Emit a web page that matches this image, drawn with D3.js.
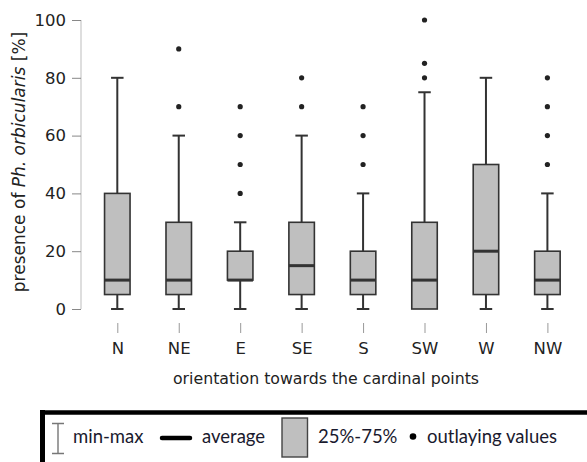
<!DOCTYPE html>
<html><head><meta charset="utf-8">
<script src="https://cdn.jsdelivr.net/npm/d3@7/dist/d3.min.js"></script>
<style>body{margin:0;background:#fff}svg{display:block}</style>
</head><body>
<script>
const categories = ["N","NE","E","SE","S","SW","W","NW"];
const mins    = [0,0,0,0,0,0,0,0];
const q1s     = [5,5,10,5,5,0,5,5];
const medians = [10,10,10,15,10,10,20,10];
const q3s     = [40,30,20,30,20,30,50,20];
const maxs    = [80,60,30,60,40,75,80,40];
const outliers = [[],[70,90],[40,50,60,70],[70,80],[50,60,70],[80,85,100],[],[50,60,70,80]];
const yTicks = [0,20,40,60,80,100];
const legendLabels = ["min-max","average","25%-75%","outlaying values"];

const W = 587, H = 462;
const svg = d3.select("body").append("svg").attr("width",W).attr("height",H);

const x = d3.scalePoint().domain(categories).range([117.3, 547.4]);
const y = d3.scaleLinear().domain([0,100]).range([309,20]);
const dark = "#333";
const font = "DejaVu Sans";

// y axis
const yAxis = svg.append("g").attr("transform","translate(81,0)")
  .call(d3.axisLeft(y).tickValues(yTicks).tickSize(9).tickPadding(6));
yAxis.select(".domain").attr("stroke","#c8c8c8").attr("stroke-width",1.2).attr("d","M0,20V309");
yAxis.selectAll(".tick line").attr("stroke","#888").attr("stroke-width",1);
yAxis.selectAll(".tick text").attr("font-family",font).attr("font-size",16.5).attr("fill","#222");

// x axis (ticks only)
const xAxis = svg.append("g").attr("transform","translate(0,323)")
  .call(d3.axisBottom(x).tickSize(10).tickPadding(9).tickSizeOuter(0));
xAxis.select(".domain").remove();
xAxis.selectAll(".tick line").attr("stroke","#999").attr("stroke-width",1);
xAxis.selectAll(".tick text").attr("font-family",font).attr("font-size",16.5).attr("fill","#222");

// boxes
const bw = 25.5, cw = 12.5;
const data = categories.map((c,i)=>({c,min:mins[i],q1:q1s[i],med:medians[i],q3:q3s[i],max:maxs[i],out:outliers[i]}));
const g = svg.append("g").selectAll("g").data(data).join("g");
g.append("line").attr("x1",d=>x(d.c)).attr("x2",d=>x(d.c)).attr("y1",d=>y(d.max)).attr("y2",d=>y(d.q3))
  .attr("stroke",dark).attr("stroke-width",2);
g.append("line").attr("x1",d=>x(d.c)).attr("x2",d=>x(d.c)).attr("y1",d=>y(d.min)).attr("y2",d=>y(d.q1))
  .attr("stroke",dark).attr("stroke-width",2);
g.filter(d=>d.max>d.q3).append("line").attr("x1",d=>x(d.c)-cw/2).attr("x2",d=>x(d.c)+cw/2).attr("y1",d=>y(d.max)).attr("y2",d=>y(d.max))
  .attr("stroke",dark).attr("stroke-width",2);
g.filter(d=>d.min<d.q1).append("line").attr("x1",d=>x(d.c)-cw/2).attr("x2",d=>x(d.c)+cw/2).attr("y1",d=>y(d.min)).attr("y2",d=>y(d.min))
  .attr("stroke",dark).attr("stroke-width",2);
g.append("rect").attr("x",d=>x(d.c)-bw/2).attr("width",bw).attr("y",d=>y(d.q3)).attr("height",d=>y(d.q1)-y(d.q3))
  .attr("fill","#bfbfbf").attr("stroke",dark).attr("stroke-width",1.6);
g.append("line").attr("x1",d=>x(d.c)-bw/2).attr("x2",d=>x(d.c)+bw/2).attr("y1",d=>y(d.med)).attr("y2",d=>y(d.med))
  .attr("stroke",dark).attr("stroke-width",3);
g.selectAll("circle").data(d=>d.out.map(v=>({c:d.c,v}))).join("circle")
  .attr("cx",d=>x(d.c)).attr("cy",d=>y(d.v)).attr("r",2.6).attr("fill","#222");

// axis titles
svg.append("text").attr("transform","translate(25,162) rotate(-90)").attr("text-anchor","middle")
  .attr("font-family",font).attr("font-size",17).attr("fill","#222")
  .html('presence of <tspan font-style="italic">Ph. orbicularis</tspan> [%]');
svg.append("text").attr("x",326).attr("y",384).attr("text-anchor","middle")
  .attr("font-family",font).attr("font-size",15.75).attr("fill","#222")
  .text("orientation towards the cardinal points");

// legend
const lg = svg.append("g");
lg.append("line").attr("x1",40).attr("x2",W).attr("y1",412.5).attr("y2",412.5).attr("stroke","#000").attr("stroke-width",4.5);
lg.append("line").attr("x1",42.5).attr("x2",42.5).attr("y1",410).attr("y2",H).attr("stroke","#000").attr("stroke-width",5);
// min-max symbol
lg.append("path").attr("d","M52,423.5H64M58,423.5V453.5M52,453.5H64").attr("stroke","#777").attr("stroke-width",1.4).attr("fill","none");
// average symbol
lg.append("line").attr("x1",162).attr("x2",190).attr("y1",438).attr("y2",438).attr("stroke","#000").attr("stroke-width",4.5).attr("stroke-linecap","round");
// box symbol
lg.append("rect").attr("x",282).attr("y",418).attr("width",25.5).attr("height",39).attr("fill","#bfbfbf").attr("stroke","#444").attr("stroke-width",1.4);
// dot
lg.append("circle").attr("cx",413).attr("cy",436.5).attr("r",3.3).attr("fill","#000");
const lf = "Lato";
const lx = [73, 202, 318, 427];
lg.selectAll("text.l").data(legendLabels).join("text").attr("class","l")
  .attr("x",(d,i)=>lx[i]).attr("y",443).attr("font-family",lf).attr("font-size",18.5).attr("fill","#1a1a2e").text(d=>d);
</script>
</body></html>
